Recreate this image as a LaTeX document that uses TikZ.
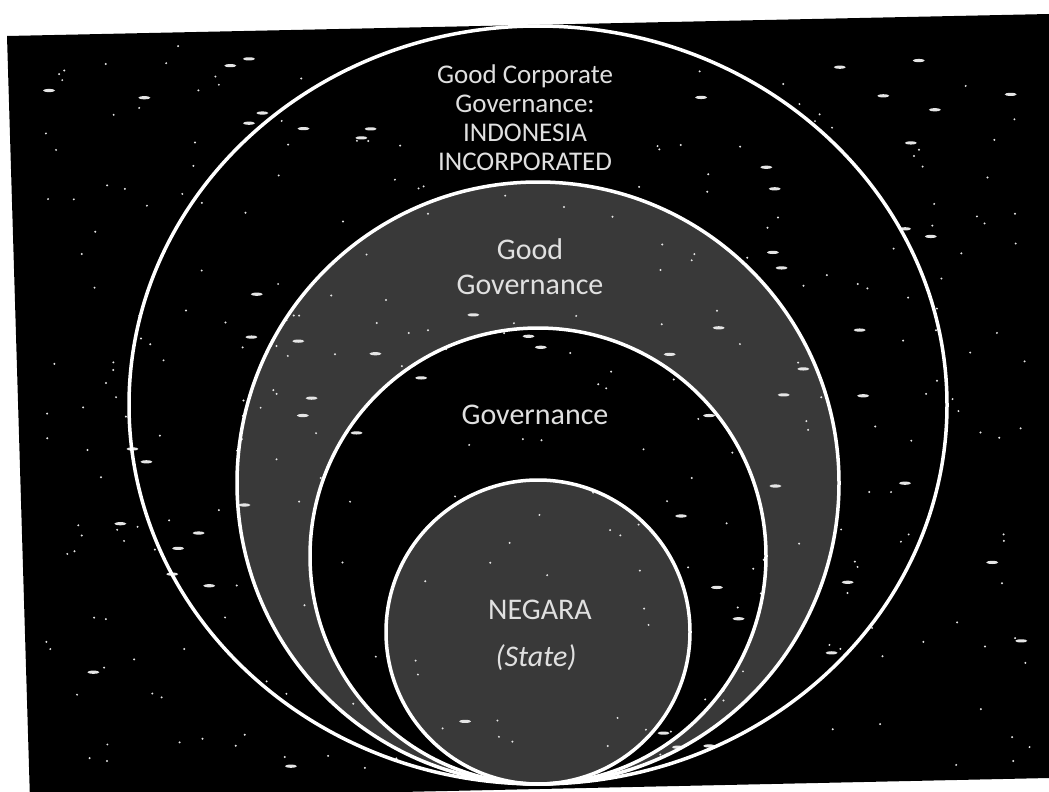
\documentclass[tikz,border=0pt]{standalone}
\usepackage{fontspec}
\setmainfont{Carlito}
\usepackage{tikz}
\tikzset{
  rim/.style={draw=white, line width=3.5pt},
  lbl/.style={text=white!88!black, align=center, font=\fontsize{30}{35}\selectfont},
  speck/.style={fill=white!90!black},
}
% 1 if (x,y) falls on one of the labels
\newcommand{\onlabel}[2]{\pgfmathtruncatemacro\hit{(abs(#1-535)<105)*((#2>55)*(#2<180)+(#2>232)*(#2<302)+(#2>398)*(#2<432)+(#2>592)*(#2<675))}}
\begin{document}
\begin{tikzpicture}[x=1pt,y=-1pt]
    \useasboundingbox (0,0) rectangle (1049,792);
    % --- PAPER AND PRINT ---
    \fill[white] (0,0) rectangle (1049,792);
    \fill[black] (7,36) -- (1049,14) -- (1049,778) -- (30,800) -- cycle;

    \def\rimA{(538,405) ellipse [x radius=409, y radius=379]}
    \def\rimB{(538,483) circle [radius=301]}
    \def\rimC{(538,556) circle [radius=228]}
    \def\rimD{(538,632) circle [radius=152]}

    % --- RINGS ---
    \fill[gray!45!black] \rimB;
    \fill[black] \rimC;
    \fill[gray!45!black] \rimD;

    % --- SPECKS ---
    \pgfmathsetseed{42}
    \foreach \k in {1,...,300}{
        \pgfmathsetmacro\sx{40+rnd*990}
        \pgfmathsetmacro\sy{45+rnd*725}
        \onlabel{\sx}{\sy}
        \ifnum\hit=0 \fill[speck] (\sx,\sy) circle (1.1);\fi
    }
    \foreach \k in {1,...,70}{
        \pgfmathsetmacro\sx{40+rnd*990}
        \pgfmathsetmacro\sy{45+rnd*725}
        \onlabel{\sx}{\sy}
        \ifnum\hit=0 \fill[speck] (\sx,\sy) ellipse [x radius=6, y radius=1.6];\fi
    }

    \draw[rim] \rimA;
    \draw[rim] \rimB;
    \draw[rim] \rimC;
    \draw[rim] \rimD;

    % --- LABELS ---
    \node[lbl, font=\fontsize{27}{29}\selectfont] (gcg) at (525,118) {Good Corporate\\Governance:\\INDONESIA\\INCORPORATED};
    \node[lbl] (gg) at (530,267) {Good\\Governance};
    \node[lbl] (gov) at (535,415) {Governance};
    \node[lbl] (negara) at (540,610) {NEGARA};
    \node[lbl, font=\fontsize{30}{30}\selectfont\itshape] (state) at (536,658) {(State)};
\end{tikzpicture}
\end{document}
